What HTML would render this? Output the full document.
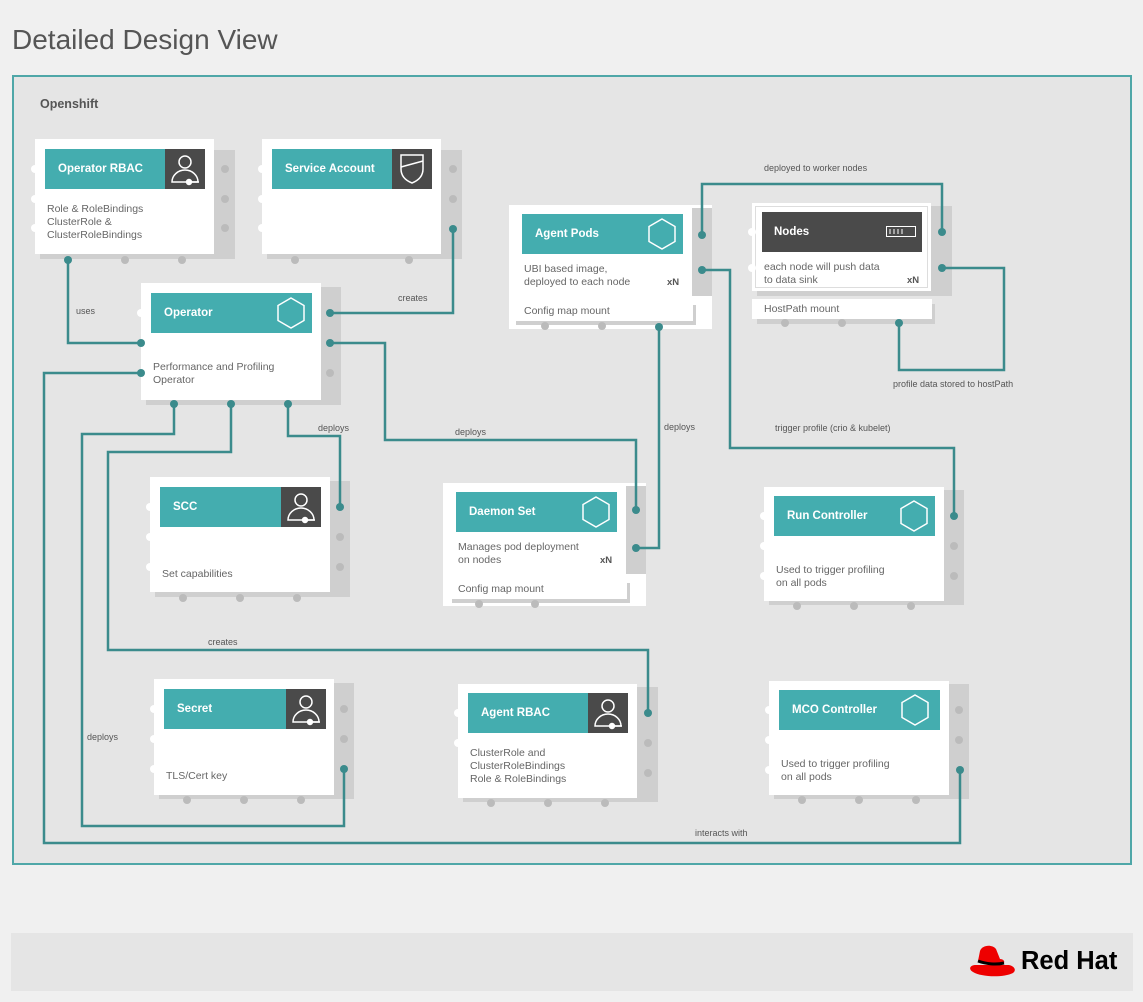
<!DOCTYPE html>
<html><head><meta charset="utf-8"><style>
*{margin:0;padding:0;box-sizing:border-box}
body{width:1143px;height:1002px;background:#f0f0f0;font-family:"Liberation Sans",sans-serif;position:relative;overflow:hidden}
.a{position:absolute}
.title{left:12px;top:24px;font-size:28px;color:#555}
.frame{left:12px;top:75px;width:1120px;height:790px;border:2px solid #4fa7a8;background:#e5e5e5}
.sh{position:absolute;background:#cfcfcf}
.wh{position:absolute;background:#fff}
.hd{position:absolute;background:#44adaf;color:#fff;font-weight:bold;font-size:11.5px;padding-left:13px;display:flex;align-items:center}
.ic{position:absolute;background:#4a4a4a}
.tx{position:absolute;font-size:10.5px;color:#666;line-height:13px}
.lb{position:absolute;font-size:9px;color:#555}
.xn{position:absolute;font-size:9.5px;font-weight:bold;color:#555}
</style></head><body>
<div class="a title">Detailed Design View</div>
<div class="a frame"></div>
<div class="a" style="left:40px;top:97px;font-size:12.5px;font-weight:bold;color:#555">Openshift</div>

<div class="sh" style="left:40px;top:150px;width:195px;height:109px"></div>
<div class="wh" style="left:35px;top:139px;width:179px;height:115px"></div>
<div class="hd" style="left:45px;top:149px;width:160px;height:40px">Operator RBAC</div>
<div class="ic" style="left:165px;top:149px;width:40px;height:40px"></div>
<div class="tx" style="left:47px;top:203px">Role &amp; RoleBindings<br>ClusterRole &amp;<br>ClusterRoleBindings</div>

<div class="sh" style="left:267px;top:150px;width:195px;height:109px"></div>
<div class="wh" style="left:262px;top:139px;width:179px;height:115px"></div>
<div class="hd" style="left:272px;top:149px;width:160px;height:40px">Service Account</div>
<div class="ic" style="left:392px;top:149px;width:40px;height:40px"></div>

<div class="sh" style="left:146px;top:287px;width:195px;height:118px"></div>
<div class="wh" style="left:141px;top:283px;width:180px;height:117px"></div>
<div class="hd" style="left:151px;top:293px;width:161px;height:40px">Operator</div>
<div class="tx" style="left:153px;top:361px">Performance and Profiling<br>Operator</div>

<div class="wh" style="left:509px;top:205px;width:203px;height:124px"></div>
<div class="sh" style="left:692px;top:208px;width:20px;height:88px"></div>
<div class="hd" style="left:522px;top:214px;width:161px;height:40px">Agent Pods</div>
<div class="tx" style="left:524px;top:263px">UBI based image,<br>deployed to each node</div>
<div class="xn" style="left:667px;top:277px">xN</div>
<div class="sh" style="left:516px;top:305px;width:180px;height:20px"></div>
<div class="wh" style="left:516px;top:301px;width:177px;height:20px"></div>
<div class="tx" style="left:524px;top:305px">Config map mount</div>

<div class="sh" style="left:757px;top:206px;width:195px;height:90px"></div>
<div class="wh" style="left:752px;top:203px;width:179px;height:88px;border:1px solid #fff;outline:1px solid #ddd;outline-offset:-4px"></div>
<div class="ic" style="left:762px;top:212px;width:160px;height:40px"></div>
<div class="a" style="left:774px;top:226px;color:#fff;font-weight:bold;font-size:11.5px">Nodes</div>
<div class="a" style="left:886px;top:226px;width:30px;height:11px;border:1.5px solid #fff"></div>
<div class="tx" style="left:764px;top:261px">each node will push data<br>to data sink</div>
<div class="xn" style="left:907px;top:275px">xN</div>
<div class="sh" style="left:757px;top:304px;width:178px;height:20px"></div>
<div class="wh" style="left:752px;top:299px;width:180px;height:20px"></div>
<div class="tx" style="left:764px;top:303px">HostPath mount</div>

<div class="sh" style="left:155px;top:481px;width:195px;height:116px"></div>
<div class="wh" style="left:150px;top:477px;width:180px;height:115px"></div>
<div class="hd" style="left:160px;top:487px;width:161px;height:40px">SCC</div>
<div class="ic" style="left:281px;top:487px;width:40px;height:40px"></div>
<div class="tx" style="left:162px;top:568px">Set capabilities</div>

<div class="wh" style="left:443px;top:483px;width:203px;height:123px"></div>
<div class="sh" style="left:626px;top:486px;width:20px;height:88px"></div>
<div class="hd" style="left:456px;top:492px;width:161px;height:40px">Daemon Set</div>
<div class="tx" style="left:458px;top:541px">Manages pod deployment<br>on nodes</div>
<div class="xn" style="left:600px;top:555px">xN</div>
<div class="sh" style="left:452px;top:583px;width:178px;height:20px"></div>
<div class="wh" style="left:452px;top:579px;width:175px;height:20px"></div>
<div class="tx" style="left:458px;top:583px">Config map mount</div>

<div class="sh" style="left:769px;top:490px;width:195px;height:115px"></div>
<div class="wh" style="left:764px;top:487px;width:180px;height:114px"></div>
<div class="hd" style="left:774px;top:496px;width:161px;height:40px">Run Controller</div>
<div class="tx" style="left:776px;top:564px">Used to trigger profiling<br>on all pods</div>

<div class="sh" style="left:159px;top:683px;width:195px;height:116px"></div>
<div class="wh" style="left:154px;top:679px;width:180px;height:116px"></div>
<div class="hd" style="left:164px;top:689px;width:162px;height:40px">Secret</div>
<div class="ic" style="left:286px;top:689px;width:40px;height:40px"></div>
<div class="tx" style="left:166px;top:770px">TLS/Cert key</div>

<div class="sh" style="left:463px;top:687px;width:195px;height:115px"></div>
<div class="wh" style="left:458px;top:684px;width:179px;height:114px"></div>
<div class="hd" style="left:468px;top:693px;width:160px;height:40px">Agent RBAC</div>
<div class="ic" style="left:588px;top:693px;width:40px;height:40px"></div>
<div class="tx" style="left:470px;top:747px">ClusterRole and<br>ClusterRoleBindings<br>Role &amp; RoleBindings</div>

<div class="sh" style="left:774px;top:684px;width:195px;height:115px"></div>
<div class="wh" style="left:769px;top:681px;width:180px;height:114px"></div>
<div class="hd" style="left:779px;top:690px;width:161px;height:40px">MCO Controller</div>
<div class="tx" style="left:781px;top:758px">Used to trigger profiling<br>on all pods</div>

<svg class="a" style="left:0;top:0" width="1143" height="1002">
<g fill="none" stroke="#fff" stroke-width="1.5">
<g id="p"><circle cx="185" cy="162" r="6"/><path d="M172 182 a13 12 0 0 1 26 0 z"/><circle cx="189" cy="182" r="2.5" fill="#fff"/><path d="M190 182h9"/></g>
<use href="#p" x="116" y="338"/><use href="#p" x="121" y="540"/><use href="#p" x="423" y="544"/>
<path d="M401 155h22v14c0 8-6 12-11 14c-5-2-11-6-11-14z"/><path d="M401 167l22-6"/>
<g id="h"><polygon points="291,298 304,305.5 304,320.5 291,328 278,320.5 278,305.5"/></g>
<use href="#h" x="371" y="-79"/><use href="#h" x="305" y="199"/><use href="#h" x="623" y="203"/><use href="#h" x="624" y="397"/>
<path d="M890 229v5M894 229v5M898 229v5M902 229v5" stroke-width="1"/>
</g>
<g fill="none" stroke="#3b8b8c" stroke-width="2.5">
<path d="M68 260V343H141"/>
<path d="M453 229V313H330"/>
<path d="M330 343H385V440H636V510"/>
<path d="M288 404V436H340V507"/>
<path d="M141 373H44V843H960V770"/>
<path d="M174 404V434H82V826H344V769"/>
<path d="M231 404V452H108V650H648V713"/>
<path d="M702 235V184H942V232"/>
<path d="M702 270H730V448H954V516"/>
<path d="M942 268H1004V370H899V323"/>
<path d="M659 327V548H636"/>
</g>
<g fill="#3b8b8c">
<circle cx="68" cy="260" r="4"/><circle cx="141" cy="343" r="4"/><circle cx="453" cy="229" r="4"/><circle cx="330" cy="313" r="4"/><circle cx="330" cy="343" r="4"/><circle cx="636" cy="510" r="4"/><circle cx="288" cy="404" r="4"/><circle cx="340" cy="507" r="4"/><circle cx="141" cy="373" r="4"/><circle cx="960" cy="770" r="4"/><circle cx="174" cy="404" r="4"/><circle cx="344" cy="769" r="4"/><circle cx="231" cy="404" r="4"/><circle cx="648" cy="713" r="4"/><circle cx="702" cy="235" r="4"/><circle cx="942" cy="232" r="4"/><circle cx="702" cy="270" r="4"/><circle cx="954" cy="516" r="4"/><circle cx="942" cy="268" r="4"/><circle cx="899" cy="323" r="4"/><circle cx="659" cy="327" r="4"/><circle cx="636" cy="548" r="4"/>
</g>
<g fill="#bbb">
<circle cx="225" cy="169" r="4"/><circle cx="225" cy="199" r="4"/><circle cx="225" cy="228" r="4"/><circle cx="125" cy="260" r="4"/><circle cx="182" cy="260" r="4"/>
<circle cx="453" cy="169" r="4"/><circle cx="453" cy="199" r="4"/><circle cx="295" cy="260" r="4"/><circle cx="409" cy="260" r="4"/>
<circle cx="330" cy="373" r="4"/>
<circle cx="340" cy="537" r="4"/><circle cx="340" cy="567" r="4"/><circle cx="183" cy="598" r="4"/><circle cx="240" cy="598" r="4"/><circle cx="297" cy="598" r="4"/>
<circle cx="954" cy="546" r="4"/><circle cx="954" cy="576" r="4"/><circle cx="797" cy="606" r="4"/><circle cx="854" cy="606" r="4"/><circle cx="911" cy="606" r="4"/>
<circle cx="344" cy="709" r="4"/><circle cx="344" cy="739" r="4"/><circle cx="187" cy="800" r="4"/><circle cx="244" cy="800" r="4"/><circle cx="301" cy="800" r="4"/>
<circle cx="648" cy="743" r="4"/><circle cx="648" cy="773" r="4"/><circle cx="491" cy="803" r="4"/><circle cx="548" cy="803" r="4"/><circle cx="605" cy="803" r="4"/>
<circle cx="959" cy="710" r="4"/><circle cx="959" cy="740" r="4"/><circle cx="802" cy="800" r="4"/><circle cx="859" cy="800" r="4"/><circle cx="916" cy="800" r="4"/>
<circle cx="479" cy="604" r="4"/><circle cx="535" cy="604" r="4"/><circle cx="545" cy="326" r="4"/><circle cx="602" cy="326" r="4"/><circle cx="785" cy="323" r="4"/><circle cx="842" cy="323" r="4"/>
</g>
<g fill="#fff">
<circle cx="35" cy="169" r="4"/><circle cx="35" cy="199" r="4"/><circle cx="35" cy="228" r="4"/>
<circle cx="262" cy="169" r="4"/><circle cx="262" cy="199" r="4"/><circle cx="262" cy="228" r="4"/>
<circle cx="141" cy="313" r="4"/><circle cx="150" cy="507" r="4"/><circle cx="150" cy="537" r="4"/><circle cx="150" cy="567" r="4"/>
<circle cx="752" cy="232" r="4"/><circle cx="752" cy="268" r="4"/>
<circle cx="764" cy="516" r="4"/><circle cx="764" cy="546" r="4"/><circle cx="764" cy="576" r="4"/>
<circle cx="154" cy="709" r="4"/><circle cx="154" cy="739" r="4"/><circle cx="154" cy="769" r="4"/>
<circle cx="458" cy="713" r="4"/><circle cx="458" cy="743" r="4"/><circle cx="769" cy="710" r="4"/><circle cx="769" cy="740" r="4"/><circle cx="769" cy="770" r="4"/>
</g>
</svg>

<div class="lb" style="left:76px;top:306px">uses</div>
<div class="lb" style="left:398px;top:293px">creates</div>
<div class="lb" style="left:318px;top:423px">deploys</div>
<div class="lb" style="left:455px;top:427px">deploys</div>
<div class="lb" style="left:664px;top:422px">deploys</div>
<div class="lb" style="left:764px;top:163px">deployed to worker nodes</div>
<div class="lb" style="left:775px;top:423px">trigger profile (crio &amp; kubelet)</div>
<div class="lb" style="left:893px;top:379px">profile data stored to hostPath</div>
<div class="lb" style="left:208px;top:637px">creates</div>
<div class="lb" style="left:87px;top:732px">deploys</div>
<div class="lb" style="left:695px;top:828px">interacts with</div>

<div class="a" style="left:11px;top:933px;width:1122px;height:58px;background:#e5e5e5"></div>
<svg class="a" style="left:968px;top:943px" width="50" height="36"><path d="M8 22c-6 0-8 4-3 7 8 5 30 6 40 1 4-3 1-7-4-8z" fill="#e00"/><path d="M12 8c2-6 12-7 16-2l4 10c3 0 5 2 4 4-8 2-20 1-26-2z" fill="#e00"/><path d="M10 18c8 3 18 4 26 2" stroke="#000" stroke-width="3" fill="none"/></svg>
<div class="a" style="left:1021px;top:947px;font-size:25.5px;font-weight:bold;color:#000">Red Hat</div>
</body></html>
